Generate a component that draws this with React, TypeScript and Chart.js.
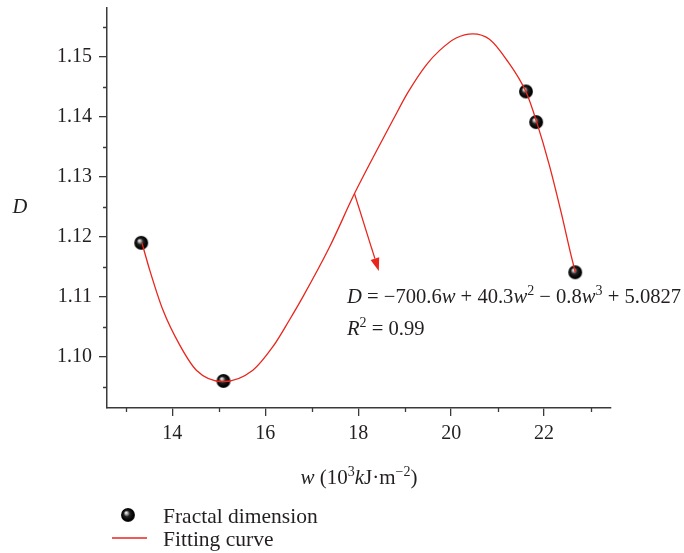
import React, { useEffect, useRef } from 'react';
import { Chart, registerables } from 'chart.js';

Chart.register(...registerables);

// Observed data points (fractal dimension)
const pointW = [13.33, 15.1, 21.61, 21.83, 22.67];
const pointD = [1.119, 1.096, 1.1442, 1.1391, 1.1141];

// Fitting curve
const curveW = [13.346, 13.512, 13.798, 14.157, 14.516, 15.088, 15.733, 16.163, 16.523, 16.809, 17.383, 17.92, 18.387, 18.744, 19.067, 19.462, 19.748, 20.108, 20.465, 20.824, 21.183, 21.613, 21.841, 22.114, 22.366, 22.581, 22.673];
const curveD = [1.119, 1.1145, 1.1078, 1.102, 1.0978, 1.0959, 1.0978, 1.1017, 1.1062, 1.11, 1.1183, 1.1272, 1.1342, 1.1394, 1.144, 1.1486, 1.151, 1.1531, 1.1538, 1.1529, 1.1496, 1.1441, 1.1391, 1.1319, 1.1241, 1.1169, 1.1141];

const xMajorTicks = [14, 16, 18, 20, 22];
const xMinorTicks = [13, 15, 17, 19, 21, 23];
const yMajorTicks = [1.10, 1.11, 1.12, 1.13, 1.14, 1.15];
const yMinorTicks = [1.095, 1.105, 1.115, 1.125, 1.135, 1.145, 1.155];

const xMin = 12.594;
const xMax = 23.44;
const yMin = 1.0915;
const yMax = 1.1581;

// Arrow annotation (from curve to equation), in data units
const arrowFrom = [17.92, 1.1272];
const arrowTo = [18.443, 1.1143];

const SERIF = '"Liberation Serif", "DejaVu Serif", serif';
const AXIS_COLOR = '#3a3a3a';
const TEXT_COLOR = '#231f20';
const RED = '#e8261c';

function makeBall(r: number): HTMLCanvasElement {
  const s = r * 2 + 2;
  const c = document.createElement('canvas');
  c.width = s;
  c.height = s;
  const g = c.getContext('2d')!;
  const cx = s / 2;
  const cy = s / 2;
  const grad = g.createRadialGradient(cx - r * 0.3, cy - r * 0.35, 0, cx, cy, r);
  grad.addColorStop(0, '#ffffff');
  grad.addColorStop(0.18, '#b8b8b8');
  grad.addColorStop(0.45, '#222222');
  grad.addColorStop(0.85, '#000000');
  grad.addColorStop(1, '#2a2a2a');
  g.fillStyle = grad;
  g.beginPath();
  g.arc(cx, cy, r, 0, Math.PI * 2);
  g.fill();
  return c;
}

type Piece = { t: string; italic?: boolean; sup?: boolean };

function drawPieces(ctx: CanvasRenderingContext2D, pieces: Piece[], x: number, y: number, size: number, align: 'left' | 'center') {
  const supSize = Math.round(size * 0.68);
  const fontFor = (p: Piece) => `${p.italic ? 'italic ' : ''}${p.sup ? supSize : size}px ${SERIF}`;
  let total = 0;
  for (const p of pieces) {
    ctx.font = fontFor(p);
    total += ctx.measureText(p.t).width;
  }
  let cx = align === 'center' ? x - total / 2 : x;
  ctx.textAlign = 'left';
  ctx.textBaseline = 'alphabetic';
  for (const p of pieces) {
    ctx.font = fontFor(p);
    ctx.fillText(p.t, cx, p.sup ? y - size * 0.4 : y);
    cx += ctx.measureText(p.t).width;
  }
}

export default function App() {
  const ref = useRef<HTMLCanvasElement | null>(null);

  useEffect(() => {
    document.body.style.margin = '0';
    const canvas = ref.current!;
    const ball = makeBall(7);
    const legendBall = makeBall(7);

    const decorations = {
      id: 'decorations',
      afterDraw(chart: any) {
        const ctx: CanvasRenderingContext2D = chart.ctx;
        const xs = chart.scales.x;
        const ys = chart.scales.y;
        const area = chart.chartArea;
        ctx.save();
        // minor ticks
        ctx.strokeStyle = AXIS_COLOR;
        ctx.lineWidth = 1.3;
        ctx.beginPath();
        for (const v of xMinorTicks) {
          const px = Math.round(xs.getPixelForValue(v)) + 0.5;
          ctx.moveTo(px, area.bottom);
          ctx.lineTo(px, area.bottom + 4);
        }
        for (const v of yMinorTicks) {
          const py = Math.round(ys.getPixelForValue(v)) + 0.5;
          ctx.moveTo(area.left, py);
          ctx.lineTo(area.left - 4, py);
        }
        ctx.stroke();

        // arrow
        const ax0 = xs.getPixelForValue(arrowFrom[0]);
        const ay0 = ys.getPixelForValue(arrowFrom[1]);
        const ax1 = xs.getPixelForValue(arrowTo[0]);
        const ay1 = ys.getPixelForValue(arrowTo[1]);
        const ang = Math.atan2(ay1 - ay0, ax1 - ax0);
        const headLen = 13;
        const headW = 4.5;
        const bx = ax1 - headLen * Math.cos(ang);
        const by = ay1 - headLen * Math.sin(ang);
        ctx.strokeStyle = RED;
        ctx.fillStyle = RED;
        ctx.lineWidth = 1.3;
        ctx.beginPath();
        ctx.moveTo(ax0, ay0);
        ctx.lineTo(bx, by);
        ctx.stroke();
        ctx.beginPath();
        ctx.moveTo(ax1, ay1);
        ctx.lineTo(bx + headW * Math.sin(ang), by - headW * Math.cos(ang));
        ctx.lineTo(bx - headW * Math.sin(ang), by + headW * Math.cos(ang));
        ctx.closePath();
        ctx.fill();

        // texts
        ctx.fillStyle = TEXT_COLOR;
        // equation
        drawPieces(ctx, [
          { t: 'D', italic: true },
          { t: ' = \u2212700.6' },
          { t: 'w', italic: true },
          { t: ' + 40.3' },
          { t: 'w', italic: true },
          { t: '2', sup: true },
          { t: ' \u2212 0.8' },
          { t: 'w', italic: true },
          { t: '3', sup: true },
          { t: ' + 5.0827' },
        ], 347, 303, 20.6, 'left');
        drawPieces(ctx, [
          { t: 'R', italic: true },
          { t: '2', sup: true },
          { t: ' = 0.99' },
        ], 347, 335, 20.6, 'left');

        // y title
        drawPieces(ctx, [{ t: 'D', italic: true }], 20, 213, 20.5, 'center');
        // x title
        drawPieces(ctx, [
          { t: 'w', italic: true },
          { t: ' (10' },
          { t: '3', sup: true },
          { t: 'k', italic: true },
          { t: 'J\u00b7m' },
          { t: '\u22122', sup: true },
          { t: ')' },
        ], 359, 484, 21, 'center');

        // legend
        ctx.drawImage(legendBall, 128 - legendBall.width / 2, 515 - legendBall.height / 2);
        ctx.strokeStyle = RED;
        ctx.lineWidth = 1.4;
        ctx.beginPath();
        ctx.moveTo(112, 538);
        ctx.lineTo(147, 538);
        ctx.stroke();
        ctx.fillStyle = TEXT_COLOR;
        drawPieces(ctx, [{ t: 'Fractal dimension' }], 163, 523, 21.5, 'left');
        drawPieces(ctx, [{ t: 'Fitting curve' }], 163, 546, 21.5, 'left');
        ctx.restore();
      },
    };

    const chart = new Chart(canvas, {
      type: 'scatter',
      data: {
        datasets: [
          {
            label: 'Fitting curve',
            data: curveW.map((w, i) => ({ x: w, y: curveD[i] })),
            showLine: true,
            borderColor: RED,
            borderWidth: 1.3,
            pointRadius: 0,
            cubicInterpolationMode: 'monotone',
            order: 0,
          } as any,
          {
            label: 'Fractal dimension',
            data: pointW.map((w, i) => ({ x: w, y: pointD[i] })),
            showLine: false,
            pointStyle: ball,
            pointRadius: 7,
            order: 1,
          } as any,
        ],
      },
      options: {
        responsive: false,
        animation: false,
        layout: { padding: { top: 7, right: 73, left: 0, bottom: 0 } },
        plugins: { legend: { display: false }, tooltip: { enabled: false } },
        scales: {
          x: {
            type: 'linear',
            min: xMin,
            max: xMax,
            afterBuildTicks: (s: any) => { s.ticks = xMajorTicks.map((v) => ({ value: v })); },
            afterFit: (s: any) => { s.height = 145; s.paddingLeft = 0; s.paddingRight = 0; },
            ticks: {
              color: TEXT_COLOR,
              font: { family: SERIF, size: 20 },
              padding: 6,
              maxRotation: 0,
              callback: (v: any) => String(v),
            },
            grid: { drawOnChartArea: false, drawTicks: true, tickLength: 8, color: AXIS_COLOR, lineWidth: 1.3 },
            border: { display: true, color: AXIS_COLOR, width: 1.5 },
          },
          y: {
            type: 'linear',
            min: yMin,
            max: yMax,
            afterBuildTicks: (s: any) => { s.ticks = yMajorTicks.map((v) => ({ value: v })); },
            afterFit: (s: any) => { s.width = 107; s.paddingTop = 0; s.paddingBottom = 0; },
            ticks: {
              color: TEXT_COLOR,
              font: { family: SERIF, size: 20 },
              padding: 7,
              callback: (v: any) => Number(v).toFixed(2),
            },
            grid: { drawOnChartArea: false, drawTicks: true, tickLength: 8, color: AXIS_COLOR, lineWidth: 1.3 },
            border: { display: true, color: AXIS_COLOR, width: 1.5 },
          },
        },
      } as any,
      plugins: [decorations],
    });
    return () => chart.destroy();
  }, []);

  return <canvas ref={ref} width={684} height={553} style={{ display: 'block' }} />;
}
